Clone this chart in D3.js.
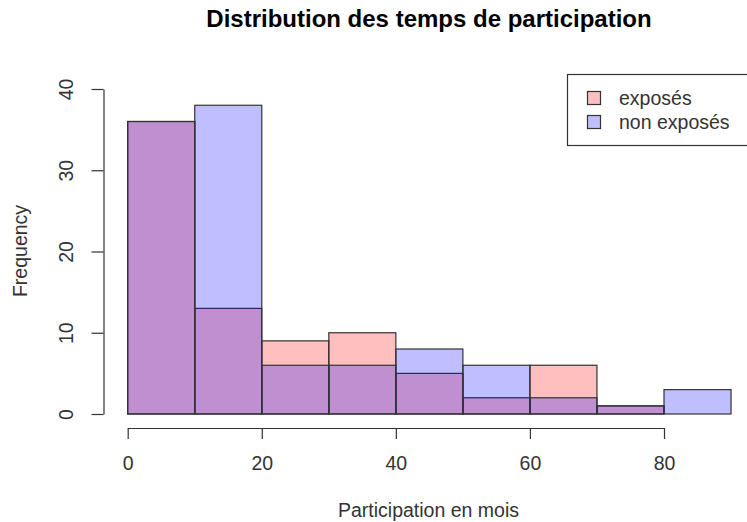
<!DOCTYPE html>
<html><head><meta charset="utf-8">
<script src="https://cdn.jsdelivr.net/npm/d3@7"></script>
<style>body{margin:0;background:#fff;}svg{display:block;font-family:"Liberation Sans",Arial,sans-serif;}</style>
</head><body>
<script>
const binEdges = [0,10,20,30,40,50,60,70,80,90];
const exposes = [36,13,9,10,5,2,6,1];
const nonExposes = [36,38,6,6,8,6,2,1,3];
const xTicks = [0,20,40,60,80];
const yTicks = [0,10,20,30,40];
const seriesNames = ["exposés","non exposés"];
const seriesColors = ["rgba(255,0,0,0.25)","rgba(0,0,255,0.25)"];

const W=747,H=522;
const FS="19.5px";
const svg=d3.select("body").append("svg").attr("width",W).attr("height",H);
svg.append("rect").attr("width",W).attr("height",H).attr("fill","#fff");
const x=d3.scaleLinear().domain([0,80]).range([127.7,664]);
const y=d3.scaleLinear().domain([0,40]).range([414,89]);
const ink="#333";

[exposes,nonExposes].forEach((vals,si)=>{
  svg.append("g").selectAll("rect").data(vals.map((v,i)=>({x0:binEdges[i],x1:binEdges[i+1],v})).filter(d=>d.v>0))
   .join("rect")
   .attr("x",d=>x(d.x0)).attr("width",d=>x(d.x1)-x(d.x0))
   .attr("y",d=>y(d.v)).attr("height",d=>y(0)-y(d.v))
   .attr("fill",seriesColors[si]).attr("stroke",ink).attr("stroke-width",1.2);
});

const gx=svg.append("g").attr("transform","translate(0,428)")
 .call(d3.axisBottom(x).tickValues(xTicks).tickSizeInner(11).tickSizeOuter(0));
const gy=svg.append("g").attr("transform","translate(103.5,0)")
 .call(d3.axisLeft(y).tickValues(yTicks).tickSizeInner(12).tickSizeOuter(0));
[gx,gy].forEach(g=>{
  g.selectAll("path,line").attr("stroke",ink).attr("stroke-width",1.2);
  g.selectAll("text").attr("fill",ink).style("font-size",FS).style("font-family","Liberation Sans, Arial, sans-serif");
});
gx.selectAll("text").attr("y",35).attr("dy","0.36em");
gy.selectAll("text").attr("x",null).attr("dy",null).attr("text-anchor","middle")
  .attr("transform","translate(-38,0) rotate(-90)").attr("dy","0.36em");

svg.append("text").attr("x",429).attr("y",18.4).attr("dy","0.36em").attr("text-anchor","middle")
 .style("font-size","24px").style("font-weight","bold").attr("fill","#000").text("Distribution des temps de participation");
svg.append("text").attr("x",428.5).attr("y",509.7).attr("dy","0.36em").attr("text-anchor","middle")
 .style("font-size",FS).attr("fill",ink).text("Participation en mois");
svg.append("text").attr("transform","translate(20,251) rotate(-90)").attr("dy","0.36em").attr("text-anchor","middle")
 .style("font-size",FS).attr("fill",ink).text("Frequency");

const lg=svg.append("g");
lg.append("rect").attr("x",567.5).attr("y",74.5).attr("width",190).attr("height",71).attr("fill","#fff").attr("stroke",ink).attr("stroke-width",1.2);
seriesNames.forEach((n,i)=>{
  const cy=98+i*24;
  lg.append("rect").attr("x",587.5).attr("y",cy-6.5).attr("width",13).attr("height",13).attr("fill",seriesColors[i]).attr("stroke",ink).attr("stroke-width",1.2);
  lg.append("text").attr("x",619).attr("y",cy).attr("dy","0.36em").style("font-size",FS).attr("fill",ink).text(n);
});
</script>
</body></html>
